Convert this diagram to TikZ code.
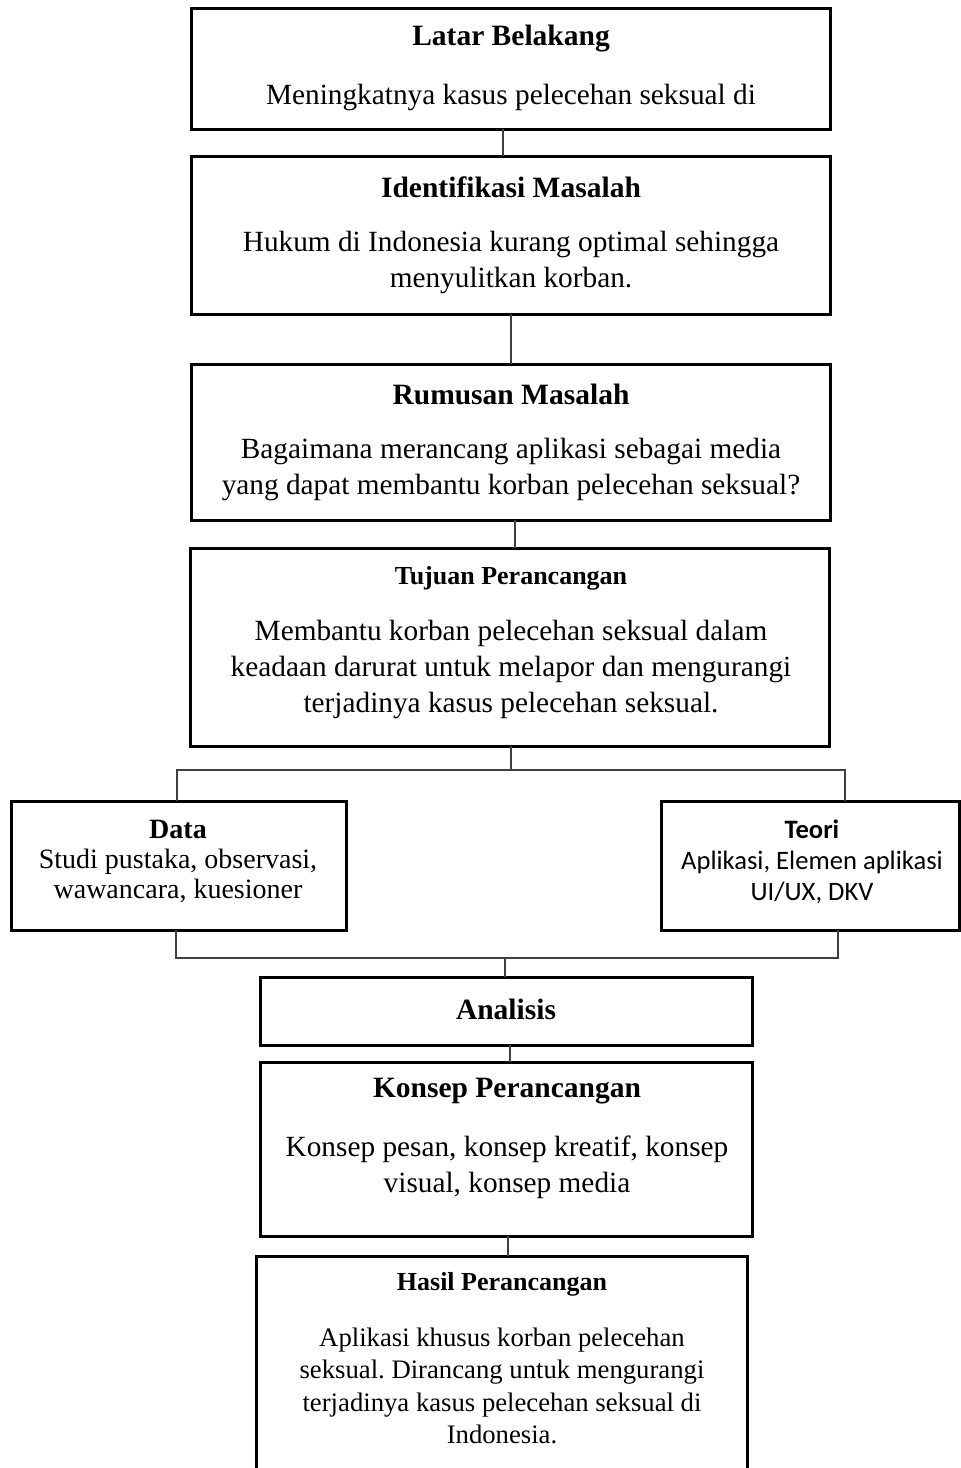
\documentclass[tikz,border=0pt]{standalone}
\usepackage{fontspec}
\setmainfont{Liberation Serif}
\newfontfamily\calib{Carlito}
\begin{document}
\frenchspacing
\begin{tikzpicture}[x=1pt,y=-1pt,
  box/.style={draw=black,line width=3pt,inner sep=0pt,outer sep=0pt},
  conn/.style={draw=black!75,line width=1.7pt},
  ttl/.style={inner sep=0pt,font=\fontsize{29.5}{34}\selectfont\bfseries},
  bodytxt/.style={inner sep=0pt,align=center,font=\fontsize{29.3}{36}\selectfont},
  smalltxt/.style={inner sep=0pt,align=center,font=\fontsize{28}{30}\selectfont},
  hasiltxt/.style={inner sep=0pt,align=center,font=\fontsize{26.7}{32.3}\selectfont}]
\useasboundingbox[fill=white] (0,0) rectangle (961,1468);

% boxes
\node[box,minimum width=639pt,minimum height=121pt] (lb) at (510.5,68.5) {};
\node[box,minimum width=639pt,minimum height=158pt] (im) at (510.5,235) {};
\node[box,minimum width=639pt,minimum height=156pt] (rm) at (510.5,442) {};
\node[box,minimum width=639pt,minimum height=198pt] (tp) at (509.5,647) {};
\node[box,minimum width=335pt,minimum height=129pt] (data) at (178.5,865.5) {};
\node[box,minimum width=298pt,minimum height=129pt] (teori) at (810,865.5) {};
\node[box,minimum width=492pt,minimum height=68pt] (an) at (506,1011) {};
\node[box,minimum width=492pt,minimum height=174pt] (kp) at (506,1149) {};
\node[inner sep=0pt,outer sep=0pt,minimum width=491pt,minimum height=240pt] (hp) at (501.5,1376) {};
\draw[line width=3pt] (hp.south west) -- (hp.north west) -- (hp.north east) -- (hp.south east);

% texts
\node[ttl] (lbt) at (511,39) {Latar Belakang};
\node[bodytxt] (lbb) at (511,97) {Meningkatnya kasus pelecehan seksual di};

\node[ttl] (imt) at (511,187) {Identifikasi Masalah};
\node[bodytxt] (imb) at (511,262) {Hukum di Indonesia kurang optimal sehingga\\menyulitkan korban.};

\node[ttl] (rmt) at (511,394) {Rumusan Masalah};
\node[bodytxt] (rmb) at (511,469) {Bagaimana merancang aplikasi sebagai media\\yang dapat membantu korban pelecehan seksual?};

\node[ttl,font=\fontsize{26}{32}\selectfont\bfseries] (tpt) at (511,578) {Tujuan Perancangan};
\node[bodytxt] (tpb) at (511,669) {Membantu korban pelecehan seksual dalam\\keadaan darurat untuk melapor dan mengurangi\\terjadinya kasus pelecehan seksual.};

\node[smalltxt] (datat) at (178,861) {\textbf{Data}\\Studi pustaka, observasi,\\wawancara, kuesioner};
\node[smalltxt,font=\calib\fontsize{26.6}{31}\selectfont] (teorit) at (812,862) {\textbf{Teori}\\Aplikasi, Elemen aplikasi\\UI/UX, DKV};

\node[ttl] (ant) at (506,1009) {Analisis};

\node[ttl] (kpt) at (507,1091) {Konsep Perancangan};
\node[bodytxt] (kpb) at (507,1167) {Konsep pesan, konsep kreatif, konsep\\visual, konsep media};

\node[ttl,font=\fontsize{26}{32}\selectfont\bfseries] (hpt) at (502,1284) {Hasil Perancangan};
\node[hasiltxt] (hpb) at (502,1386) {Aplikasi khusus korban pelecehan\\seksual. Dirancang untuk mengurangi\\terjadinya kasus pelecehan seksual di\\Indonesia.};

% connectors
\draw[conn] ([xshift=-7.5pt]lb.south) -- ([xshift=-7.5pt]im.north);
\draw[conn] ([xshift=0.5pt]im.south) -- ([xshift=0.5pt]rm.north);
\draw[conn] ([xshift=4.5pt]rm.south) -- ([xshift=5.5pt]tp.north);
\coordinate (splitT) at (511,770);
\draw[conn] ([xshift=1.5pt]tp.south) -- (splitT);
\draw[conn] ([xshift=-1.5pt]data.north) |- (splitT) -| ([xshift=35pt]teori.north);
\coordinate (joinB) at (505,958);
\draw[conn] ([xshift=-2.5pt]data.south) |- (joinB) -| ([xshift=28pt]teori.south);
\draw[conn] (joinB) -- ([xshift=-1pt]an.north);
\draw[conn] ([xshift=4pt]an.south) -- ([xshift=4pt]kp.north);
\draw[conn] ([xshift=2pt]kp.south) -- ([xshift=6.5pt]hp.north);
\end{tikzpicture}
\end{document}
